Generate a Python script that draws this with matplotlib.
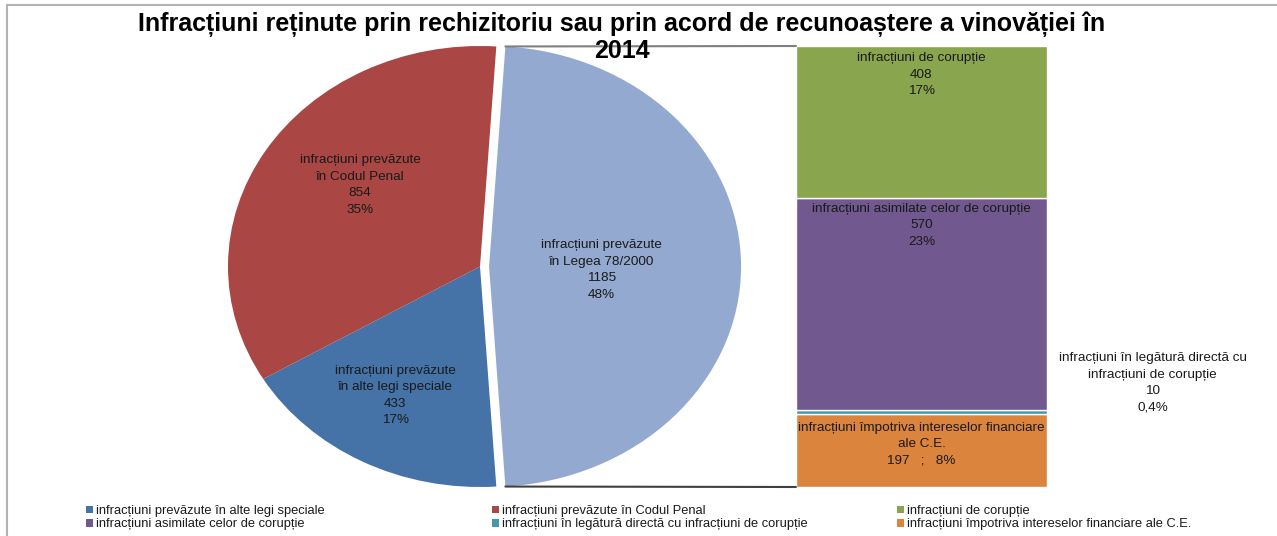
import matplotlib
matplotlib.use("Agg")
import matplotlib.pyplot as plt
from matplotlib.patches import Patch, ConnectionPatch
from matplotlib.lines import Line2D
import numpy as np

plt.rcParams['font.family'] = ['Liberation Sans', 'DejaVu Sans']

# ---------------- data ----------------
title_line1 = "Infracțiuni reținute prin rechizitoriu sau prin acord de recunoaștere a vinovăției în"
title_line2 = "2014"

pie_names = ["infracțiuni prevăzute în alte legi speciale",
             "infracțiuni prevăzute în Codul Penal",
             "infracțiuni prevăzute în Legea 78/2000"]
pie_label_names = ["infracțiuni prevăzute\nîn alte legi speciale",
                   "infracțiuni prevăzute\nîn Codul Penal",
                   "infracțiuni prevăzute\nîn Legea 78/2000"]
pie_values = [433, 854, 1185]
pie_pct = ["17%", "35%", "48%"]

bar_names = ["infracțiuni de corupție",
             "infracțiuni asimilate celor de corupție",
             "infracțiuni în legătură directă cu infracțiuni de corupție",
             "infracțiuni împotriva intereselor financiare ale C.E."]
bar_values = [408, 570, 10, 197]
bar_pct = ["17%", "23%", "0,4%", "8%"]

pie_colors = ["#4572A7", "#AA4643", "#93A9CF"]
bar_colors = ["#89A54E", "#71588F", "#4198AF", "#DB843D"]

# ---------------- figure ----------------
W, H = 1277, 536
fig = plt.figure(figsize=(W / 100, H / 100), dpi=100)

def fx(px):
    return px / W

def fy(py):
    return 1 - py / H

txt_color = "#1a1a1a"
fs = 9.7
fs_leg = 9.3
ls = 1.5

# pie axes (elliptical, stretched like the reference)
cx, cy, rx, ry = 480, 266.5, 252, 220.5
lim = 1.1
pie_ax = fig.add_axes([fx(cx - lim * rx), fy(cy + lim * ry), 2 * lim * rx / W, 2 * lim * ry / H])

order = [2, 0, 1]  # Legea first, then alte legi, then Codul Penal (clockwise)
vals = [pie_values[i] for i in order]
cols = [pie_colors[i] for i in order]
frac_big = pie_values[2] / sum(pie_values)
start = 180 * frac_big
explode_amt = 0.036
wedges, _ = pie_ax.pie(vals, colors=cols, startangle=start, counterclock=False,
                       explode=[explode_amt, 0, 0], radius=1,
                       wedgeprops=dict(linewidth=0))
pie_ax.set_aspect('auto')
pie_ax.set_xlim(-lim, lim)
pie_ax.set_ylim(-lim, lim)
pie_ax.axis('off')

label_pos = {0: (-0.337, -0.585), 1: (-0.476, 0.37), 2: (0.482, -0.016)}
for i in range(3):
    x, y = label_pos[i]
    pie_ax.text(x, y, f"{pie_label_names[i]}\n{pie_values[i]}\n{pie_pct[i]}",
                ha='center', va='center', fontsize=fs, color=txt_color,
                linespacing=ls, multialignment='center')

# bar axes
bx0, bx1, by_top, by_bot = 796, 1047, 46, 487
bar_ax = fig.add_axes([fx(bx0), fy(by_bot), (bx1 - bx0) / W, (by_bot - by_top) / H])
stack_order = [3, 2, 1, 0]  # bottom to top
bottom = 0
seg_bottoms = {}
for i in stack_order:
    bar_ax.bar(0, bar_values[i], width=1, bottom=bottom, color=bar_colors[i],
               edgecolor='white', linewidth=1.0)
    seg_bottoms[i] = bottom
    bottom += bar_values[i]
total_bar = bottom
bar_ax.set_xlim(-0.5, 0.5)
bar_ax.set_ylim(0, total_bar)
bar_ax.axis('off')

# bar labels
green_top = seg_bottoms[0] + bar_values[0]
bar_ax.annotate(f"{bar_names[0]}\n{bar_values[0]}\n{bar_pct[0]}", xy=(0, green_top),
                xytext=(0, -6), textcoords='offset pixels', ha='center', va='top',
                fontsize=fs, color=txt_color, linespacing=ls)
purple_top = seg_bottoms[1] + bar_values[1]
bar_ax.annotate(f"{bar_names[1]}\n{bar_values[1]}\n{bar_pct[1]}", xy=(0, purple_top),
                xytext=(0, -5), textcoords='offset pixels', ha='center', va='top',
                fontsize=fs, color=txt_color, linespacing=ls)
orange_mid = seg_bottoms[3] + bar_values[3] / 2
bar_ax.annotate("infracțiuni împotriva intereselor financiare\nale C.E.\n"
                f"{bar_values[3]}   ;   {bar_pct[3]}", xy=(0, orange_mid),
                xytext=(0, 6), textcoords='offset pixels', ha='center', va='center',
                fontsize=fs, color=txt_color, linespacing=ls)
teal_mid = seg_bottoms[2] + bar_values[2] / 2
bar_ax.annotate("infracțiuni în legătură directă cu\ninfracțiuni de corupție\n"
                f"{bar_values[2]}\n{bar_pct[2]}", xy=(0, teal_mid),
                xytext=(231, 29), textcoords='offset pixels', ha='center', va='center',
                fontsize=fs, color=txt_color, linespacing=ls, annotation_clip=False)

# connector lines between exploded slice and bar
a = np.deg2rad(start)
top_pt = (explode_amt + np.cos(a), np.sin(a))
bot_pt = (explode_amt + np.cos(a), -np.sin(a))
for pt, yb, col in [(top_pt, total_bar, "#7f7f7f"), (bot_pt, 0, "#404040")]:
    con = ConnectionPatch(xyA=pt, coordsA=pie_ax.transData, xyB=(-0.5, yb),
                          coordsB=bar_ax.transData, color=col, linewidth=1.5)
    fig.add_artist(con)

# chart border (top & left visible)
fig.add_artist(Line2D([fx(7), fx(7)], [0, fy(5)], color="#b3b3b3", linewidth=1.5))
fig.add_artist(Line2D([fx(7), 1], [fy(5), fy(5)], color="#b3b3b3", linewidth=1.5))

# title
fig.text(fx(622), fy(24), title_line1, ha='center', va='center', fontsize=18,
         fontweight='bold', color='black', zorder=10)
fig.text(fx(622), fy(51), title_line2, ha='center', va='center', fontsize=18,
         fontweight='bold', color='black', zorder=10)

# legend: 3 columns x 2 rows, filled row-wise
legend_names = pie_names[:2] + bar_names
legend_colors = pie_colors[:2] + bar_colors
col_x = [86, 492, 897]
for c in range(3):
    idx = [c, c + 3]
    handles = [Patch(facecolor=legend_colors[k], edgecolor='none') for k in idx]
    labels = [legend_names[k] for k in idx]
    fig.legend(handles, labels, loc='upper left', bbox_to_anchor=(fx(col_x[c]), fy(505)),
               frameon=False, fontsize=fs_leg, handlelength=0.55, handleheight=0.55,
               handletextpad=0.23, labelspacing=0.1, borderpad=0, borderaxespad=0,
               labelcolor=txt_color)

fig.savefig("out.png", dpi=100)
